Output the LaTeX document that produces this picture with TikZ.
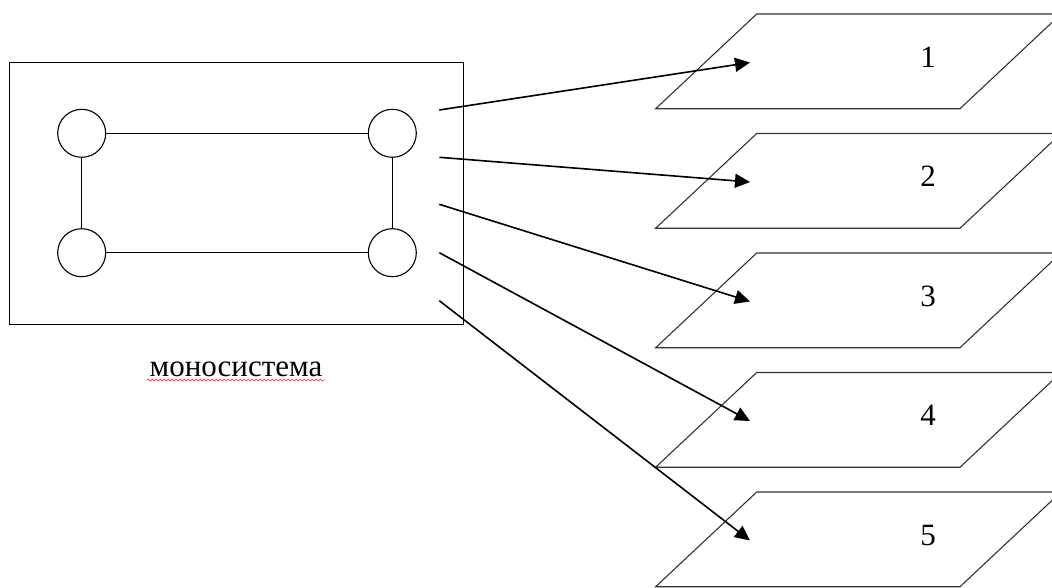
\documentclass[tikz,border=0pt]{standalone}
\usepackage{fontspec}
\setmainfont{Liberation Serif}
\usetikzlibrary{arrows.meta,decorations.pathmorphing}
\tikzset{
  vertex/.style={circle,draw,line width=1.1pt,minimum size=48pt,inner sep=0pt},
  edge/.style={line width=1.1pt},
  frame/.style={draw,line width=1.3pt},
  plane/.style={draw=black!80,line width=1.1pt},
  link/.style={line width=1.6pt,-{Triangle[length=15pt,width=14pt]}},
  lbl/.style={font=\fontsize{31}{36}\selectfont,inner sep=0pt},
  spell/.style={draw=red!80,line width=0.7pt,decorate,decoration={snake,amplitude=1pt,segment length=4pt}}
}
\begin{document}
\begin{tikzpicture}[x=1pt,y=-1pt]
\clip (0,0) rectangle (1052,587);
\fill[white] (0,0) rectangle (1052,587);
% monosystem frame
\draw[frame] (9.5,62.3) rectangle (463.3,324.3);
\node[vertex] (c1) at (81.7,133.3) {};
\node[vertex] (c2) at (392.3,133.3) {};
\node[vertex] (c3) at (81.7,252.7) {};
\node[vertex] (c4) at (392.3,252.7) {};
\draw[edge] (c1) -- (c2);
\draw[edge] (c3) -- (c4);
\draw[edge] (c1) -- (c3);
\draw[edge] (c2) -- (c4);
\node[lbl,anchor=base] (mono) at (236,376) {моносистема};
\draw[spell] (147,380) -- (325,380);
% planes
\foreach \i/\t in {1/14,2/133.5,3/253,4/372.5,5/492}{
  \draw[plane] (756.7,\t) -- (1061,\t) -- ({960},{\t+94.7}) -- (655.7,{\t+94.7}) -- cycle;
  \node[lbl] (n\i) at (928,{\t+43}) {\i};
  \coordinate (tip\i) at (750,{\t+48.5});
}
% arrows
\coordinate (s1) at (439.3,110);
\coordinate (s2) at (439.3,157.3);
\coordinate (s3) at (439.3,204.3);
\coordinate (s4) at (439.3,252.7);
\coordinate (s5) at (439.3,300.7);
\foreach \i in {1,...,5}{
  \draw[link] (s\i) -- (tip\i);
}
\end{tikzpicture}
\end{document}
